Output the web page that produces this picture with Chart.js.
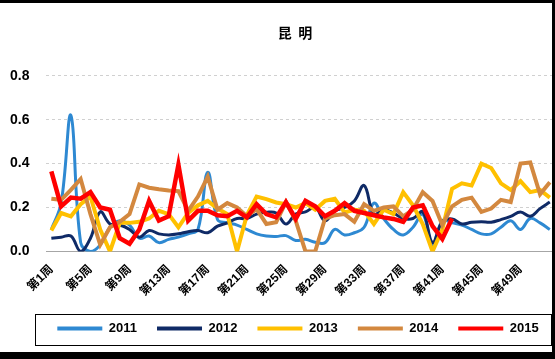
<!DOCTYPE html>
<html><head><meta charset="utf-8">
<script src="https://cdn.jsdelivr.net/npm/chart.js@4/dist/chart.umd.min.js"></script>
<style>
html,body{margin:0;padding:0;background:#000;width:555px;height:359px;overflow:hidden;}
#wrap{position:absolute;left:0;top:3px;width:552px;height:349px;background:#fff;overflow:hidden;}
#c{position:absolute;left:0;top:0;}
</style></head><body>
<div id="wrap"><canvas id="c" width="563" height="349"></canvas></div>
<script>
const weeks = ['第1周','第2周','第3周','第4周','第5周','第6周','第7周','第8周','第9周','第10周',
'第11周','第12周','第13周','第14周','第15周','第16周','第17周','第18周','第19周','第20周',
'第21周','第22周','第23周','第24周','第25周','第26周','第27周','第28周','第29周','第30周',
'第31周','第32周','第33周','第34周','第35周','第36周','第37周','第38周','第39周','第40周',
'第41周','第42周','第43周','第44周','第45周','第46周','第47周','第48周','第49周','第50周',
'第51周','第52周'];
const seriesNames = ['2011','2012','2013','2014','2015'];
const s2011 = [0.10,0.22,0.62,0.04,0.00,0.03,0.11,0.14,0.12,0.06,0.07,0.04,0.055,0.065,0.08,0.10,0.36,0.145,0.13,0.12,0.10,0.08,0.07,0.068,0.072,0.05,0.055,0.042,0.04,0.10,0.075,0.085,0.11,0.22,0.15,0.10,0.075,0.11,0.17,0.03,0.14,0.13,0.12,0.10,0.08,0.08,0.11,0.14,0.10,0.15,0.13,0.10];
const s2012 = [0.06,0.065,0.07,0.00,0.06,0.18,0.125,0.12,0.10,0.065,0.095,0.08,0.075,0.08,0.09,0.095,0.085,0.115,0.13,0.15,0.15,0.17,0.178,0.175,0.125,0.17,0.18,0.20,0.14,0.185,0.20,0.23,0.30,0.17,0.19,0.175,0.15,0.15,0.18,0.04,0.135,0.148,0.125,0.133,0.135,0.133,0.145,0.16,0.18,0.16,0.195,0.225];
const s2013 = [0.095,0.175,0.16,0.215,0.25,0.10,0.00,0.13,0.13,0.135,0.15,0.185,0.17,0.11,0.175,0.21,0.23,0.195,0.17,0.00,0.165,0.25,0.238,0.223,0.215,0.20,0.22,0.19,0.23,0.24,0.178,0.19,0.185,0.125,0.19,0.17,0.27,0.21,0.125,0.00,0.10,0.285,0.31,0.30,0.40,0.38,0.31,0.28,0.32,0.27,0.28,0.245];
const s2014 = [0.24,0.235,0.28,0.33,0.17,0.03,0.11,0.135,0.17,0.305,0.29,0.283,0.278,0.275,0.185,0.25,0.34,0.19,0.22,0.20,0.16,0.193,0.125,0.133,0.225,0.14,0.00,0.00,0.15,0.165,0.17,0.135,0.215,0.185,0.20,0.205,0.16,0.19,0.27,0.23,0.12,0.205,0.235,0.245,0.18,0.195,0.235,0.225,0.40,0.405,0.26,0.315];
const s2015 = [0.365,0.205,0.245,0.24,0.27,0.20,0.19,0.06,0.035,0.10,0.23,0.14,0.16,0.395,0.14,0.185,0.185,0.165,0.16,0.185,0.155,0.215,0.17,0.155,0.225,0.148,0.23,0.205,0.16,0.185,0.22,0.185,0.175,0.165,0.155,0.148,0.135,0.20,0.21,0.115,0.057,0.15,null,null,null,null,null,null,null,null,null,null];
const yTicks = [0, 0.2, 0.4, 0.6, 0.8];
const colors = ['#2E89D2','#0F2A66','#FFC000','#D3883F','#FF0000'];
const widths = [3, 3, 4, 4, 4.5];
const tensions = [0.4, 0.4, 0, 0, 0];
const allSeries = [s2011, s2012, s2013, s2014, s2015];

const FONT = '"Liberation Sans", "Noto Sans CJK SC", Arial, sans-serif';

const layoutTweak = {
  id: 'layoutTweak',
  afterLayout(chart) {
    const lg = chart.legend;
    if (lg) { lg.left += 20; lg.right += 20; }
    const tt = chart.titleBlock;
    if (tt) { tt.left += 17; tt.right += 17; }
  },
  afterDraw(chart) {
    const lg = chart.legend;
    const ctx = chart.ctx;
    if (lg && lg.legendHitBoxes && lg.legendHitBoxes.length) {
      const hb = lg.legendHitBoxes;
      const minL = Math.min(...hb.map(h => h.left));
      const maxR = Math.max(...hb.map(h => h.left + h.width));
      const cy = hb[0].top + hb[0].height / 2;
      ctx.save();
      ctx.strokeStyle = '#000';
      ctx.lineWidth = 1;
      ctx.strokeRect(Math.round(minL - 22) + 0.5, Math.round(cy - 15) + 0.5, Math.round(maxR - minL + 35), 31);
      ctx.restore();
    }
  }
};

new Chart(document.getElementById('c'), {
  type: 'line',
  data: {
    labels: weeks,
    datasets: allSeries.map((d, i) => ({
      label: seriesNames[i],
      data: d,
      borderColor: colors[i],
      backgroundColor: colors[i],
      borderWidth: widths[i],
      tension: tensions[i],
      pointRadius: 0,
      fill: false,
      spanGaps: false,
      order: 4 - i
    }))
  },
  options: {
    responsive: false,
    animation: false,
    devicePixelRatio: 1,
    layout: { padding: { left: -7, right: 0, top: 0, bottom: 7 } },
    plugins: {
      title: {
        display: true,
        text: '昆  明',
        color: '#000',
        font: { family: '"Noto Sans CJK SC", sans-serif', size: 14, weight: 'bold' },
        padding: { top: 21, bottom: 35 }
      },
      legend: {
        position: 'bottom',
        labels: {
          boxWidth: 45,
          boxHeight: 4,
          padding: 20,
          color: '#000',
          font: { family: FONT, size: 13, weight: 'bold' },
          generateLabels(chart) {
            return chart.data.datasets.map((ds, i) => ({
              text: ds.label,
              fillStyle: ds.borderColor,
              strokeStyle: ds.borderColor,
              lineWidth: 0,
              hidden: false,
              datasetIndex: i
            }));
          }
        }
      },
      tooltip: { enabled: false }
    },
    scales: {
      x: {
        offset: true,
        grid: { display: false },
        border: { display: true, color: '#A6A6A6', width: 1 },
        ticks: {
          autoSkip: false,
          maxRotation: 45,
          minRotation: 45,
          padding: 3,
          color: '#000',
          font: { family: FONT, size: 12, weight: 'bold' },
          callback: (v, i) => (i % 4 === 0 ? weeks[i] : '')
        }
      },
      y: {
        min: 0,
        max: 0.8,
        afterBuildTicks: (axis) => { axis.ticks = yTicks.map(v => ({ value: v })); },
        grid: { color: '#D0D0D0', drawTicks: false, lineWidth: 1 },
        border: { display: false, dash: [3, 3] },
        ticks: {
          padding: 17,
          color: '#000',
          font: { family: FONT, size: 14, weight: 'bold' },
          callback: (v) => Number(v).toFixed(1)
        }
      }
    }
  },
  plugins: [layoutTweak]
});
</script>
<div style="position:absolute;left:552px;top:0;width:3px;height:359px;background:#000;"></div>
</body></html>
